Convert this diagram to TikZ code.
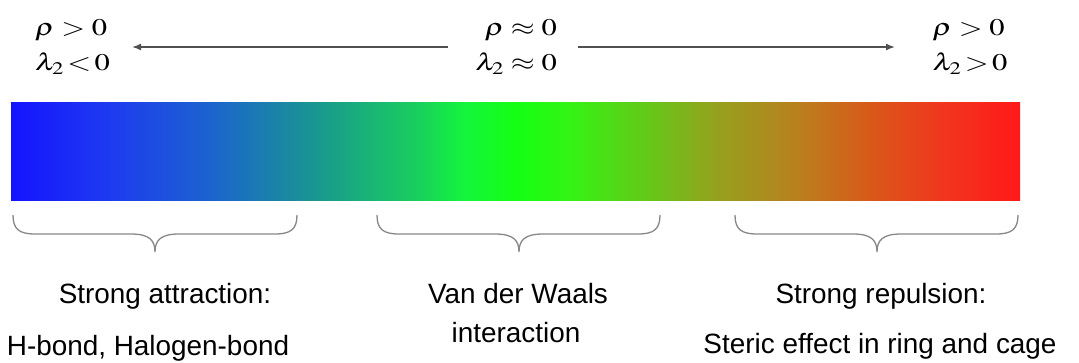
\documentclass[tikz,border=0pt]{standalone}
\usepackage{mathptmx}
\usepackage{graphicx}
\usepackage[no-math]{fontspec}
\setmainfont{Liberation Sans}
\usetikzlibrary{arrows.meta}
\definecolor{s0}{RGB}{20,20,255}
\definecolor{s1}{RGB}{30,60,240}
\definecolor{s2}{RGB}{28,100,205}
\definecolor{s3}{RGB}{25,150,145}
\definecolor{s4}{RGB}{25,205,95}
\definecolor{s5}{RGB}{20,245,60}
\definecolor{s6}{RGB}{20,255,20}
\definecolor{s7}{RGB}{50,245,20}
\definecolor{s8}{RGB}{100,200,25}
\definecolor{s9}{RGB}{150,160,30}
\definecolor{s10}{RGB}{185,128,30}
\definecolor{s11}{RGB}{215,90,25}
\definecolor{s12}{RGB}{240,55,30}
\definecolor{s13}{RGB}{255,25,25}
\definecolor{bracegray}{RGB}{135,135,135}
\definecolor{arrowgray}{RGB}{80,80,80}
\pgfdeclarehorizontalshading{nci}{100bp}{color(0bp)=(s0); color(25bp)=(s0); color(30bp)=(s1); color(35bp)=(s2); color(40bp)=(s3); color(45bp)=(s4); color(47.5bp)=(s5); color(50bp)=(s6); color(52.5bp)=(s7); color(56.5bp)=(s8); color(60bp)=(s9); color(64bp)=(s10); color(67.5bp)=(s11); color(71bp)=(s12); color(75bp)=(s13); color(100bp)=(s13)}
\tikzset{
  mathlbl/.style={inner sep=0pt, font=\fontsize{24}{35}\selectfont},
  txt/.style={inner sep=0pt, anchor=base, font=\fontsize{28}{32}\selectfont},
  arr/.style={draw=arrowgray, line width=1.5bp, -{Latex[length=9bp,width=7bp]}},
  bracestyle/.style={draw=bracegray, line width=1.3bp},
}
\newcommand{\mx}[1]{\scalebox{1.28}[1]{#1}}
\newcommand{\nciBrace}[3]{% xa, xm, xb
  \draw[bracestyle] (#1,215) .. controls (#1,229) and (#1+6,234) .. (#1+22,234)
    -- (#2-24,234) .. controls (#2-6,234) and (#2,240) .. (#2,252)
    .. controls (#2,240) and (#2+6,234) .. (#2+24,234)
    -- (#3-22,234) .. controls (#3-6,234) and (#3,229) .. (#3,215);}
\begin{document}
\begin{tikzpicture}[x=1bp,y=-1bp]
\useasboundingbox (0,0) rectangle (1079,362);
% top labels
\node[mathlbl, align=left, anchor=north west] (condL) at (35,19.5)
  {\mx{$\rho > 0$}\\\mx{$\lambda_2\!<\!0$}};
\node[mathlbl, align=right, anchor=north east] (condM) at (557,19.5)
  {\mx{$\rho \approx 0$}\\\mx{$\lambda_2 \approx 0$}};
\node[mathlbl, align=left, anchor=north west] (condR) at (932.5,19.5)
  {\mx{$\rho > 0$}\\\mx{$\lambda_2\!>\!0$}};
% arrows
\coordinate (aLs) at (448,47);
\coordinate (aLe) at (132,47);
\coordinate (aRs) at (578,47);
\coordinate (aRe) at (895,47);
\draw[arr] (aLs) -- (aLe);
\draw[arr] (aRs) -- (aRe);
% colour bar
\path[shading=nci] (11,102) rectangle (1020,200);
\node[inner sep=0pt] (bar) at (515.5,151) {};
% braces
\nciBrace{13}{155}{297}
\nciBrace{377}{519}{660}
\nciBrace{735}{877}{1018}
% bottom text
\node[txt] (sa) at (165,303) {Strong attraction:};
\node[txt] (hb) at (148,355) {H-bond, Halogen-bond};
\node[txt] (vdw) at (518,303) {Van der Waals};
\node[txt] (inter) at (516,342) {interaction};
\node[txt] (sr) at (881,303) {Strong repulsion:};
\node[txt] (st) at (880,353) {Steric effect in ring and cage};
\end{tikzpicture}
\end{document}
